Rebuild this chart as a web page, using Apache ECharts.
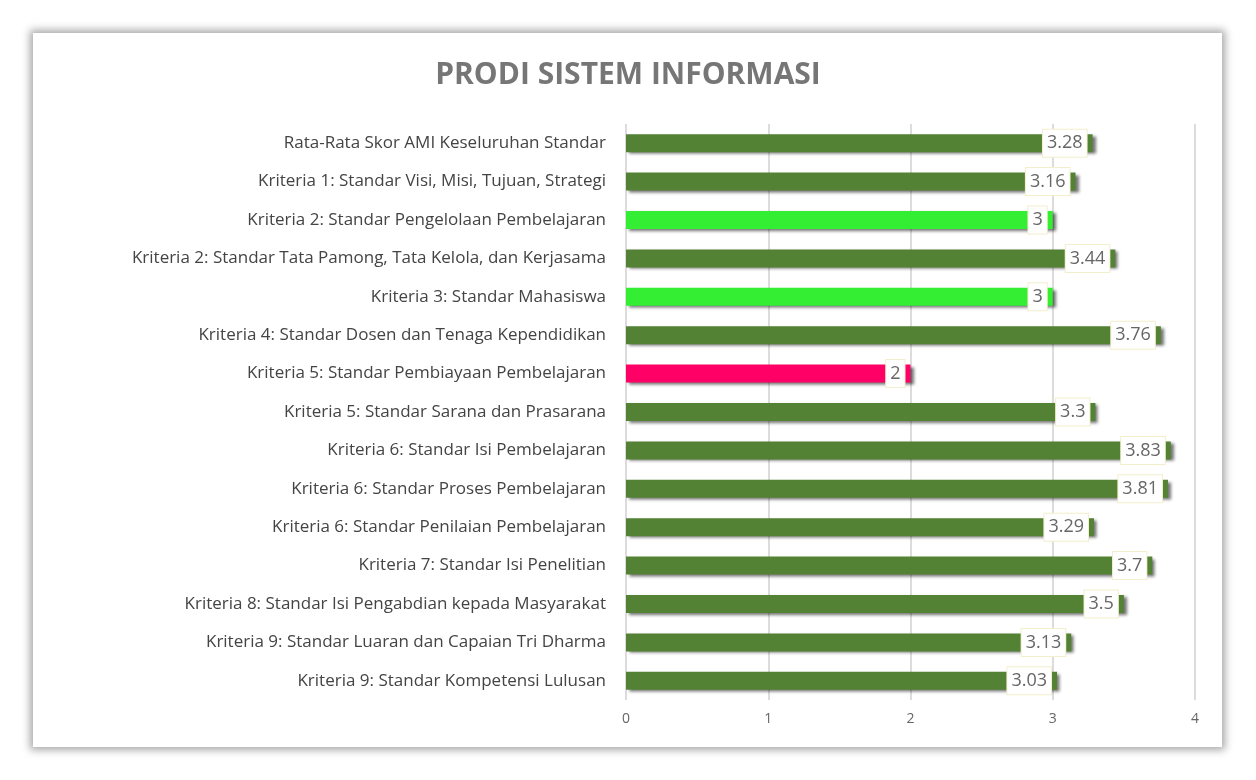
<!DOCTYPE html>
<html><head><meta charset="utf-8">
<script src="https://cdn.jsdelivr.net/npm/echarts@6/dist/echarts.min.js"></script>
<style>
html,body{margin:0;background:#fff;}
#card{position:absolute;left:33px;top:33px;width:1189px;height:714px;background:#fff;box-shadow:0 0 8px 3px rgba(0,0,0,0.35);}
#c{position:absolute;left:0;top:0;width:1256px;height:780px;}
</style></head><body>
<div id="card"></div><div id="c"></div>
<script>
const categories=["Rata-Rata Skor AMI Keseluruhan Standar","Kriteria 1: Standar Visi, Misi, Tujuan, Strategi","Kriteria 2: Standar Pengelolaan Pembelajaran","Kriteria 2: Standar Tata Pamong, Tata Kelola, dan Kerjasama","Kriteria 3: Standar Mahasiswa","Kriteria 4: Standar Dosen dan Tenaga Kependidikan","Kriteria 5: Standar Pembiayaan Pembelajaran","Kriteria 5: Standar Sarana dan Prasarana","Kriteria 6: Standar Isi Pembelajaran","Kriteria 6: Standar Proses Pembelajaran","Kriteria 6: Standar Penilaian Pembelajaran","Kriteria 7: Standar Isi Penelitian","Kriteria 8: Standar Isi Pengabdian kepada Masyarakat","Kriteria 9: Standar Luaran dan Capaian Tri Dharma","Kriteria 9: Standar Kompetensi Lulusan"];
const values=[3.28,3.16,3,3.44,3,3.76,2,3.3,3.83,3.81,3.29,3.7,3.5,3.13,3.03];
const xTicks=[0,1,2,3,4];
function col(v){return v<=2?'#ff0066':(v===3?'#33ee33':'#548235');}
const chart=echarts.init(document.getElementById('c'));
chart.setOption({
 title:{text:'PRODI SISTEM INFORMASI',left:'center',top:55,textStyle:{fontFamily:'Open Sans',fontWeight:'bold',fontSize:30,color:'#767676'}},
 grid:{left:626,right:61,top:124,bottom:80},
 xAxis:{type:'value',min:0,max:4,interval:1,axisLabel:{color:'#666',fontSize:14,fontFamily:'Open Sans',margin:12,formatter:v=>xTicks.includes(v)?String(v):''},splitLine:{lineStyle:{color:'#d0d0d0',width:1.5}},axisLine:{show:false},axisTick:{show:false}},
 yAxis:{type:'category',inverse:true,data:categories,axisLabel:{color:'#444',fontSize:17,fontFamily:'Open Sans',margin:20},axisLine:{show:false},axisTick:{show:false}},
 series:[{type:'bar',barWidth:18,data:values.map(v=>({value:v,itemStyle:{color:col(v),shadowColor:'rgba(0,0,0,0.55)',shadowOffsetX:3,shadowOffsetY:2,shadowBlur:3}})),
  label:{show:true,position:'insideRight',offset:[-1,0],color:'#666',fontSize:18,fontFamily:'Open Sans',backgroundColor:'#fff',borderColor:'#f3eecc',borderWidth:1,padding:[5,4,4,4]}}]
});
</script></body></html>
